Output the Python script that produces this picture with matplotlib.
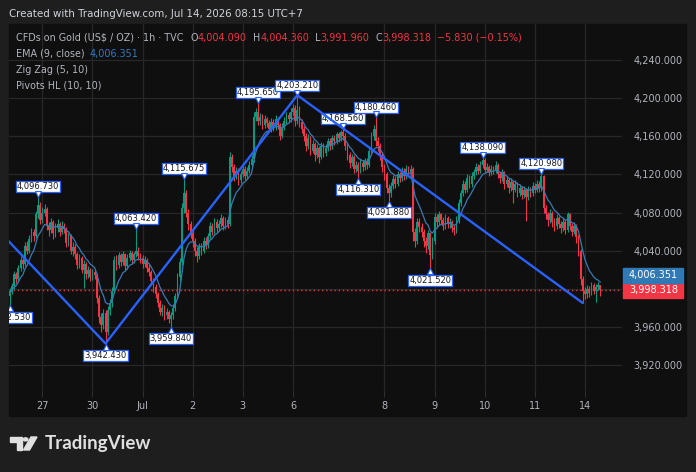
"""TVC:GOLD 1h candles with EMA(9), Zig Zag and Pivots HL, TradingView dark style."""

import numpy as np
import pandas as pd
import matplotlib
matplotlib.use("Agg")
import matplotlib.pyplot as plt
from matplotlib.patches import Rectangle, Polygon, Circle
from matplotlib import transforms

# ---- data: hourly bars (index 0 = first visible bar) ----
open0 = 3992.0
close = [
    # Jun 26
    3997, 4003, 4015, 4010, 4022, 4030, 4026, 4045, 4040, 4052, 4060, 4055, 4078, 4088, 4072,
    # Jun 27 / 29
    4080, 4084, 4066, 4062, 4070, 4058, 4064, 4068, 4060, 4066, 4063, 4048, 4055, 4040, 4044,
    4036, 4025, 4032, 4020, 4026, 4015, 4020, 4012,
    # Jun 30
    4018, 4014, 3990, 3970, 3962, 3975, 3955, 3978, 3985, 3998, 4030, 4025, 4035, 4028, 4036,
    4024, 4032, 4038, 4030, 4036, 4040, 4034, 4032,
    # Jul 1
    4026, 4030, 4022, 4018, 4008, 4002, 3994, 3985, 3976, 3980, 3972, 3976, 3968, 3972, 3980,
    3992, 4012, 4028, 4085, 4100, 4080, 4068, 4058,
    # Jul 2
    4050, 4040, 4034, 4044, 4040, 4050, 4046, 4055, 4066, 4060, 4070, 4064, 4068, 4074, 4066,
    4072, 4068, 4138, 4128, 4118, 4124, 4114, 4120,
    # Jul 3
    4126, 4118, 4124, 4130, 4136, 4180, 4185, 4176, 4180, 4172, 4178, 4174, 4168, 4175, 4170,
    4178, 4172, 4160, 4170, 4176, 4182, 4178, 4186,
    # Jul 6 / 7
    4190, 4176, 4188, 4175, 4168, 4160, 4150, 4158, 4145, 4152, 4140, 4148, 4138, 4150, 4142,
    4148, 4155, 4150, 4158, 4155, 4162,
    4158, 4164, 4160, 4150, 4140, 4132, 4138, 4126, 4130, 4124, 4132, 4128, 4134, 4130, 4145,
    4160, 4168, 4155, 4150, 4140, 4128,
    # Jul 8
    4120, 4106, 4100, 4108, 4115, 4110, 4120, 4116, 4124, 4118, 4126, 4122, 4126, 4060, 4050,
    4070, 4065, 4060, 4050, 4045, 4058, 4035, 4050,
    # Jul 9
    4075, 4070, 4078, 4072, 4066, 4074, 4068, 4070, 4064, 4062, 4072, 4090, 4100, 4110, 4104,
    4116, 4110, 4118, 4122, 4128, 4124, 4130, 4135,
    # Jul 10
    4125, 4128, 4122, 4126, 4124, 4130, 4120, 4116, 4122, 4110, 4114, 4106, 4112, 4104, 4110,
    4100, 4106, 4098, 4104, 4096, 4104, 4100, 4108,
    # Jul 11 / 13
    4104, 4110, 4106, 4118, 4085, 4078, 4072, 4080, 4070, 4066, 4074, 4068, 4064, 4070, 4062,
    4078, 4066, 4060, 4066, 4054, 4040, 4010, 3998,
    # Jul 14
    3994, 4000, 3996, 4004, 3998, 4002, 4004.09, 3998.318,
]
high = [
    4001, 4006, 4019, 4018, 4025, 4034, 4033, 4049, 4050, 4056, 4064, 4063, 4082, 4096.73, 4091,
    4086, 4089, 4086, 4070, 4074, 4072, 4069, 4073, 4070, 4071, 4069, 4065, 4059, 4057, 4049,
    4047, 4039, 4036, 4034, 4030, 4028, 4024, 4022,
    4021, 4020, 4016, 3993, 3975, 3979, 3978, 3982, 3989, 4002, 4034, 4035, 4039, 4038, 4040,
    4038, 4036, 4041, 4040, 4039, 4063.42, 4044, 4038,
    4035, 4034, 4032, 4026, 4020, 4011, 4005, 3997, 3988, 3984, 3983, 3980, 3978, 3976, 3984,
    3996, 4016, 4032, 4090, 4115.675, 4104, 4084, 4071,
    4062, 4053, 4044, 4048, 4048, 4054, 4054, 4059, 4070, 4069, 4074, 4073, 4072, 4078, 4076,
    4075, 4075, 4144, 4141, 4131, 4128, 4127, 4124,
    4130, 4129, 4128, 4134, 4140, 4186, 4190, 4195.65, 4184, 4183, 4182, 4180, 4177, 4179, 4178,
    4182, 4180, 4174, 4174, 4180, 4186, 4185, 4190,
    4194, 4193, 4203.21, 4192, 4178, 4171, 4163, 4162, 4160, 4156, 4154, 4152, 4150, 4154, 4153,
    4152, 4158, 4158, 4161, 4161, 4165,
    4165, 4167, 4168.56, 4163, 4153, 4143, 4141, 4140, 4134, 4133, 4136, 4135, 4137, 4137, 4149,
    4164, 4172, 4180.46, 4159, 4153, 4143,
    4131, 4123, 4110, 4112, 4119, 4118, 4124, 4123, 4128, 4127, 4130, 4129, 4130, 4128, 4064,
    4074, 4074, 4069, 4063, 4054, 4062, 4060, 4054,
    4079, 4078, 4082, 4080, 4075, 4078, 4076, 4074, 4072, 4067, 4076, 4094, 4104, 4114, 4113,
    4120, 4119, 4122, 4126, 4132, 4131, 4134, 4138.09,
    4137, 4132, 4130, 4130, 4129, 4134, 4132, 4123, 4126, 4124, 4118, 4116, 4116, 4114, 4114,
    4112, 4110, 4108, 4108, 4106, 4108, 4107, 4112,
    4111, 4114, 4113, 4120.98, 4119, 4088, 4081, 4084, 4082, 4074, 4078, 4076, 4071, 4074, 4072,
    4081, 4080, 4069, 4070, 4068, 4056, 4042, 4013,
    4002, 4004, 4003, 4007, 4006, 4005, 4007, 4004.36,
]
low = [
    3982.53, 3994, 4000, 4006, 4008, 4019, 4021, 4024, 4036, 4038, 4049, 4050, 4053, 4074, 4068,
    4069, 4076, 4062, 4055, 4058, 4052, 4054, 4060, 4055, 4057, 4058, 4044, 4045, 4036, 4034,
    4031, 4021, 4022, 4016, 4001, 4010, 4011, 4008,
    4009, 4010, 3985, 3964, 3955, 3958, 3942.43, 3951, 3972, 3981, 3995, 4020, 4022, 4024, 4025,
    4020, 4021, 4029, 4026, 4027, 4033, 4030, 4027,
    4022, 4023, 4018, 4013, 4004, 3997, 3990, 3981, 3972, 3971, 3967, 3968, 3964, 3959.84, 3968,
    3977, 3989, 4008, 4025, 4080, 4075, 4062, 4053,
    4044, 4034, 4028, 4031, 4035, 4037, 4042, 4043, 4052, 4056, 4057, 4060, 4061, 4065, 4062,
    4063, 4064, 4066, 4123, 4113, 4115, 4109, 4111,
    4117, 4114, 4115, 4121, 4127, 4133, 4176, 4172, 4172, 4168, 4169, 4170, 4164, 4165, 4166,
    4167, 4168, 4156, 4158, 4167, 4173, 4174, 4175,
    4182, 4171, 4173, 4170, 4163, 4155, 4145, 4147, 4140, 4142, 4134, 4137, 4132, 4136, 4138,
    4139, 4145, 4146, 4147, 4151, 4152,
    4154, 4155, 4156, 4146, 4135, 4127, 4129, 4121, 4122, 4116.31, 4121, 4124, 4125, 4126, 4128,
    4142, 4156, 4150, 4145, 4135, 4123,
    4114, 4100, 4091.88, 4096, 4105, 4106, 4108, 4112, 4113, 4114, 4115, 4118, 4119, 4050, 4044,
    4047, 4060, 4054, 4044, 4038, 4042, 4021.52, 4031,
    4047, 4065, 4067, 4068, 4062, 4063, 4064, 4064, 4060, 4056, 4059, 4069, 4087, 4097, 4100,
    4101, 4106, 4107, 4115, 4119, 4120, 4121, 4127,
    4121, 4122, 4118, 4119, 4120, 4121, 4116, 4111, 4113, 4105, 4107, 4100, 4103, 4090, 4101,
    4096, 4097, 4094, 4095, 4071, 4093, 4096, 4097,
    4100, 4101, 4102, 4103, 4080, 4073, 4066, 4069, 4065, 4061, 4063, 4064, 4058, 4061, 4057,
    4060, 4062, 4055, 4057, 4048, 4034, 4004, 3985,
    3989, 3990, 3991, 3993, 3994, 3986, 3999, 3991.96,
]
assert len(close) == len(high) == len(low) == 272

day_idx = [15, 38, 61, 84, 107, 130, 172, 195, 218, 241, 264]
day_lab = ["27", "30", "Jul", "2", "3", "6", "8", "9", "10", "11", "14"]
price_ticks = [3920, 3960, 4000, 4040, 4080, 4120, 4160, 4200, 4240]

# Zig Zag (5, 10) swing points; the first one lies left of the window
zz_idx = [-3, 44, 132, 263]
zz_px = [4056, 3942.43, 4203.21, 3985]

# Pivots HL (10, 10)
piv_idx = [0, 13, 44, 58, 74, 80, 114, 132, 153, 160, 168, 174, 193, 217, 244]
piv_kind = ["L", "H", "L", "H", "L", "H", "H", "H", "H", "L", "H", "L", "L", "H", "H"]

ema_last = 4006.351
change_txt = "\u22125.830 (\u22120.15%)"

# ---- style ----
BG = "#1e1e1e"
PANE = "#0f0f0f"
GRID = "#272727"
TXT = "#b2b5be"
UP = "#089981"
DN = "#f23645"
BLUE = "#2962ff"
EMA_C = "#3b79b3"
W, H = 696, 472

opn = [open0] + close[:-1]
o = np.array(opn)
c = np.array(close)
hi = np.array(high)
lo = np.array(low)
idx = np.arange(len(c))
ema = pd.Series(c).ewm(span=9, adjust=False).mean()

plt.rcParams["font.family"] = "DejaVu Sans"
fig = plt.figure(figsize=(W / 100, H / 100), dpi=100, facecolor=BG)
fig.patches.append(Rectangle((9 / W, 1 - 416 / H), 677 / W, 392 / H,
                             transform=fig.transFigure, color=PANE, zorder=-5))

ax = fig.add_axes([9 / W, 1 - 391 / H, 613 / W, 367 / H])
ax.set_facecolor(PANE)
ax.set_xlim(-0.3, 281.0)
ax.set_ylim(3892.6, 4277.9)
for s in ax.spines.values():
    s.set_visible(False)

ax.set_xticks(day_idx, day_lab)
ax.set_yticks(price_ticks, ["" if p == 4000 else f"{p:,.3f}" for p in price_ticks])
ax.yaxis.tick_right()
ax.tick_params(axis="x", length=4, width=0.8, color="#2e2e2e", pad=3,
               labelsize=7, labelcolor=TXT)
ax.tick_params(axis="y", length=0, pad=8, labelsize=7, labelcolor=TXT)
ax.grid(color=GRID, lw=0.9, zorder=0)
ax.set_axisbelow(True)

# candles
up = c >= o
col = np.where(up, UP, DN)
body_lo = np.minimum(o, c)
body_h = np.maximum(np.abs(c - o), 0.8)
ax.vlines(idx, lo, hi, colors=col, lw=0.8, zorder=2)
ax.bar(idx, body_h, bottom=body_lo, width=0.8, color=col, lw=0, zorder=2)

ax.plot(idx, ema, color=EMA_C, lw=0.9, zorder=3)
ax.axhline(close[-1], color=DN, lw=1.0, ls=(0, (1, 2)), zorder=1.5)

# pivot labels
for i, k in zip(piv_idx, piv_kind):
    v = high[i] if k == "H" else low[i]
    dy = 7 if k == "H" else -8.5
    ax.annotate(f"{v:,.3f}", xy=(i, v), xytext=(0, dy), textcoords="offset points",
                ha="center", va="center", fontsize=6, color="#131722", zorder=4,
                annotation_clip=False, clip_on=True,
                bbox=dict(boxstyle="square,pad=0.12", fc="white", ec=BLUE, lw=0.9))
    tr = transforms.offset_copy(ax.transData, fig, y=(2.5 if k == "H" else -3),
                                units="dots")
    ax.plot(i, v, marker="v" if k == "H" else "^", ms=4, mfc="white", mec=BLUE,
            mew=0.8, transform=tr, zorder=4.1)

ax.plot(zz_idx, zz_px, color=BLUE, lw=1.7, zorder=5, solid_capstyle="round")

# price tags on the axis
y_last = ax.transData.transform((0, close[-1]))[1]
for yc, txt, fc in ((y_last, f"{close[-1]:,.3f}", DN),
                    (y_last + 15, f"{ema_last:,.3f}", "#3179b5")):
    fig.patches.append(Rectangle((623 / W, (yc - 7.5) / H), 60 / W, 15 / H,
                                 transform=fig.transFigure, color=fc, zorder=5))
    fig.text(629 / W, yc / H, txt, color="white", fontsize=7, va="center",
             ha="left", zorder=6)

# header + legend texts
r = fig.canvas.get_renderer()


def run_text(x, y, parts, size):
    for s, colr, gap in parts:
        t = fig.text(x / W, 1 - y / H, s, color=colr, fontsize=size,
                     va="center", ha="left")
        x = t.get_window_extent(r).x1 + gap


run_text(9, 14, [("Created with TradingView.com, Jul 14, 2026 08:15 UTC+7", "#d1d4dc", 0)], 7.4)
run_text(16, 38, [("CFDs on Gold (US\\$ / OZ) \u00b7 1h \u00b7 TVC", TXT, 7),
                  ("O", TXT, 0), (f"{opn[-1]:,.3f}", DN, 6),
                  ("H", TXT, 0), (f"{high[-1]:,.3f}", DN, 6),
                  ("L", TXT, 0), (f"{low[-1]:,.3f}", DN, 6),
                  ("C", TXT, 0), (f"{close[-1]:,.3f}", DN, 6),
                  (change_txt, DN, 0)], 6.9)
run_text(16, 54, [("EMA (9, close)", TXT, 5), (f"{ema_last:,.3f}", "#2f7bc4", 0)], 6.9)
run_text(16, 70, [("Zig Zag (5, 10)", TXT, 0)], 6.9)
run_text(16, 86, [("Pivots HL (10, 10)", TXT, 0)], 6.9)

# footer logo
LOGO = "#e0e0e0"


def px(x, y):
    return (x / W, 1 - y / H)


fig.patches.append(Polygon([px(10, 437), px(22, 437), px(22, 450), px(16.5, 450),
                            px(16.5, 441.5), px(10, 441.5)], closed=True,
                           transform=fig.transFigure, color=LOGO))
fig.patches.append(Circle(px(25.6, 439.4), 2.3 / W, transform=fig.transFigure, color=LOGO))
fig.patches.append(Polygon([px(23.5, 450), px(29.5, 450), px(37, 437), px(31, 437)],
                           closed=True, transform=fig.transFigure, color=LOGO))
fig.text(45 / W, 1 - 443.5 / H, "TradingView", color=LOGO, fontsize=13.5,
         fontweight="bold", family="Lato", va="center", ha="left")

fig.savefig("out.png", dpi=100, facecolor=BG)
